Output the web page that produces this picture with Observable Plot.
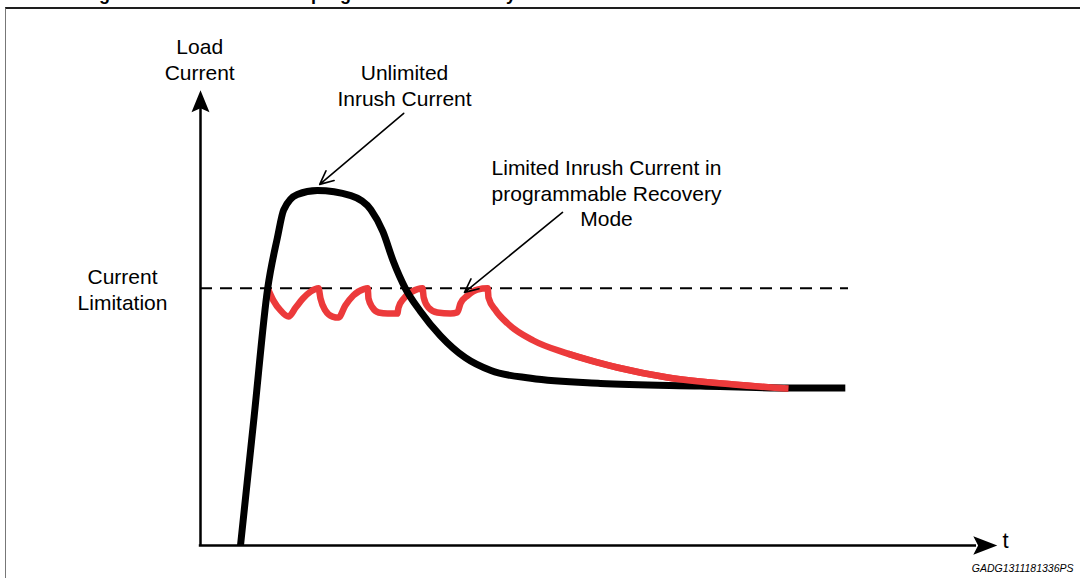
<!DOCTYPE html>
<html>
<head>
<meta charset="utf-8">
<script src="https://cdn.jsdelivr.net/npm/d3@7"></script>
<script src="https://cdn.jsdelivr.net/npm/@observablehq/plot@0.6"></script>
<style>
  html, body { margin: 0; padding: 0; background: #fff; }
  #wrap { position: relative; width: 1080px; height: 578px; overflow: hidden; background: #fff; }
  #title { position: absolute; left: 83px; top: -15px; font: bold 18px/18px "Liberation Sans", Arial, sans-serif; white-space: nowrap; color: #000; }
  #border { position: absolute; left: 5px; top: 7px; right: -10px; bottom: -10px; border-top: 2px solid #1e1e1e; border-left: 1.5px solid #777; }
  #chart { position: absolute; left: 0; top: 0; }
</style>
</head>
<body>
<div id="wrap">
  <div id="border"></div>
  <div id="title">Figure 9. Inrush current in programmable recovery mode</div>
  <div id="chart"></div>
</div>
<script>
// ---- data (time t, load current i, arbitrary units; current limitation = 10) ----
const unlimitedT = [5.0, 6.7, 8.4, 9.6, 10.4, 12.1, 14.6, 18.8, 21.3, 22.8, 24.1, 25.6, 27.5, 30.0, 33.1, 36.3, 41.3, 50.0, 62.5, 73.8, 80.6];
const unlimitedI = [0, 5.0, 10.0, 11.95, 13.05, 13.65, 13.8, 13.6, 13.05, 12.2, 11.05, 10.0, 9.1, 8.15, 7.3, 6.8, 6.5, 6.3, 6.2, 6.12, 6.12];

const limitedT = [8.4, 9.1, 10.0, 11.0, 11.9, 12.8, 13.8, 14.75,
                  15.0, 15.6, 16.5, 17.25, 18.1, 19.1, 20.4, 20.9,
                  21.0, 21.5, 22.25, 23.4, 24.6, 24.75, 25.4, 26.5, 27.75,
                  27.9, 28.5, 29.6, 31.25, 32.1, 32.5, 33.4, 34.6, 35.9,
                  36.0, 36.9, 38.4, 41.6, 45.9, 52.1, 58.4, 66.6, 73.5];
const limitedI = [10.0, 9.53, 9.14, 8.9, 9.25, 9.6, 9.88, 10.0,
                  9.6, 9.14, 8.9, 8.86, 9.33, 9.72, 9.97, 10.0,
                  9.6, 9.25, 9.06, 9.02, 9.02, 9.25, 9.6, 9.88, 10.0,
                  9.64, 9.25, 9.06, 9.02, 9.06, 9.41, 9.72, 9.95, 10.0,
                  9.64, 9.14, 8.63, 7.97, 7.46, 6.92, 6.53, 6.26, 6.1];

const currentLimit = 10;
const limitLineEnd = 81;
const tAxisEnd = 99.6;
const iAxisEnd = 17.7;

const labelTexts = ["Load\nCurrent", "Current\nLimitation", "Unlimited\nInrush Current",
                    "Limited Inrush Current in\nprogrammable Recovery\nMode"];
const labelT = [-0.1, -9.75, 25.5, 50.75];
const labelI = [18.93, 9.97, 17.9, 13.72];

const pointerFromT = [25.4, 45.25];
const pointerFromI = [16.8, 12.95];
const pointerToT = [14.9, 33.0];
const pointerToI = [14.04, 9.84];

const axisLabel = "t";
const figureCode = "GADG1311181336PS";

// ---- derived tables ----
const unlimited = unlimitedT.map((t, k) => ({t, i: unlimitedI[k]}));
const limited = limitedT.map((t, k) => ({t, i: limitedI[k]}));
const labels = labelTexts.map((text, k) => ({text, t: labelT[k], i: labelI[k]}));
const pointers = pointerFromT.map((t1, k) => ({t1, i1: pointerFromI[k], t2: pointerToT[k], i2: pointerToI[k]}));

// arrowheads for the two axes (derived from the axis ends)
const xHead = [
  {t: tAxisEnd, i: 0}, {t: tAxisEnd - 3.0, i: 0.36}, {t: tAxisEnd - 2.4, i: 0}, {t: tAxisEnd - 3.0, i: -0.36}
];
const yHead = [
  {t: 0, i: iAxisEnd}, {t: 1.125, i: iAxisEnd - 0.86}, {t: 0, i: iAxisEnd - 0.7}, {t: -1.125, i: iAxisEnd - 0.86}
];

const font = '"Liberation Sans", Arial, Helvetica, sans-serif';
const red = "#ec3a3b";

const chart = Plot.plot({
  width: 1080,
  height: 578,
  marginLeft: 200,
  marginRight: 80,
  marginTop: 82,
  marginBottom: 33,
  style: {fontFamily: font, background: "transparent", color: "#000"},
  x: {domain: [0, 100], axis: null},
  y: {domain: [0, 18], axis: null},
  marks: [
    // axes
    Plot.ruleX([0], {y1: 0, y2: iAxisEnd - 0.6, stroke: "#000", strokeWidth: 2.5}),
    Plot.ruleY([0], {x1: -0.15, x2: tAxisEnd - 2.6, stroke: "#000", strokeWidth: 2.5}),
    Plot.line(xHead, {x: "t", y: "i", fill: "#000", stroke: "none", curve: "linear-closed"}),
    Plot.line(yHead, {x: "t", y: "i", fill: "#000", stroke: "none", curve: "linear-closed"}),
    // current limitation
    Plot.ruleY([currentLimit], {x1: 0, x2: limitLineEnd, stroke: "#000", strokeWidth: 2, strokeDasharray: "12,8"}),
    // curves
    Plot.line(limited, {x: "t", y: "i", curve: "monotone-x", stroke: red, strokeWidth: 6.5, strokeLinejoin: "round", strokeLinecap: "butt"}),
    Plot.line(unlimited, {x: "t", y: "i", curve: "monotone-x", stroke: "#000", strokeWidth: 7, strokeLinejoin: "round", strokeLinecap: "butt"}),
    Plot.line(limited, {filter: (d) => d.t >= 45, x: "t", y: "i", curve: "monotone-x", stroke: red, strokeWidth: 6.5, strokeLinejoin: "round", strokeLinecap: "butt"}),
    // annotations
    Plot.arrow(pointers, {x1: "t1", y1: "i1", x2: "t2", y2: "i2", stroke: "#000", strokeWidth: 1.6, headLength: 14, headAngle: 50}),
    Plot.text(labels, {x: "t", y: "i", text: "text", fontSize: 21, lineHeight: 1.22, textAnchor: "middle", fill: "#000", fontFamily: font}),
    Plot.text([axisLabel], {frameAnchor: "bottom-right", dx: 2, dy: 2, textAnchor: "start", fontSize: 22, fill: "#000", fontFamily: font}),
    Plot.text([figureCode], {frameAnchor: "bottom-right", dx: 73, dy: 26.5, textAnchor: "end", fontSize: 10.5, fontStyle: "italic", fill: "#000", fontFamily: font})
  ]
});
document.getElementById("chart").appendChild(chart);
</script>
</body>
</html>
